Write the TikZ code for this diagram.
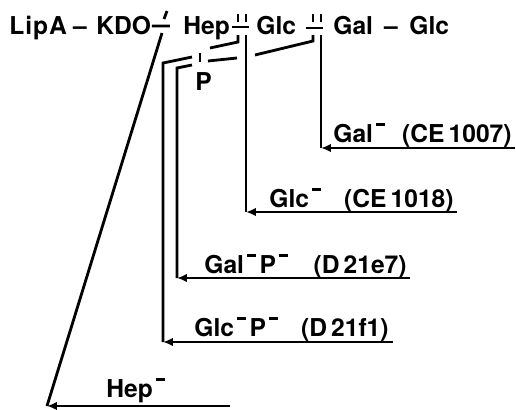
\documentclass[tikz,border=0pt]{standalone}
\usepackage{fontspec}
\setmainfont{TeX Gyre Heros}
\usepackage{tikz}
\usetikzlibrary{arrows.meta}

\newcommand{\mneg}{\kern0.12em\raisebox{0.64em}{\rule{0.36em}{0.12em}}}

\begin{document}
\begin{tikzpicture}[x=0.025cm, y=-0.025cm, >={Latex[length=7pt, width=6pt]},
  line width=2pt, font=\fontsize{17.5}{20}\selectfont\bfseries,
  word/.style={inner sep=0pt, anchor=base west},
  strain/.style={inner sep=0pt, anchor=base east}]
  \useasboundingbox (0,0) rectangle (516,410);
  % the chain
  \node[word] (lipa) at (8,34) {L\kern0.04em i\kern0.04em p\kern0.04em A};
  \node[inner sep=0pt, anchor=base] (lk) at (80,34) {--};
  \node[word] (kdo) at (95,34) {KDO};
  \node[word] (hep) at (182,34) {Hep};
  \node[word] (glcA) at (255,34) {Glc};
  \node[word] (gal) at (332,34) {Gal};
  \node[inner sep=0pt, anchor=base] (gg) at (391,34) {--};
  \node[word] (glcB) at (408,34) {Glc};
  \node[word] (p) at (194,90) {P};
  % bond marks
  \draw (152,26) -- (170,26) (167,11) -- (164,19);
  \draw (232,27) -- (249,27) (238,14) -- (238,22) (246,14) -- (246,22);
  \draw (306,28) -- (323,28) (313,14) -- (313,22) (321,14) -- (321,22);
  \draw (200,53) -- (200,62);
  % mutants
  \node[word] (hepM) at (105,397) {Hep\mneg};
  \node[word] (glcM) at (268,207) {Glc\mneg};
  \node[strain] (glcS) at (455,207) {(CE\,1018)};
  \node[word] (galM) at (332,142) {Gal\mneg};
  \node[strain] (galS) at (513,142) {(CE\,1007)};
  \node[word] (galPM) at (203,273) {Gal\mneg\kern0.15em P\mneg};
  \node[strain] (galPS) at (408,273) {(D\,21e7)};
  \node[word] (glcPM) at (193,336) {Glc\mneg\kern0.15em P\mneg};
  \node[strain] (glcPS) at (390,336) {(D\,21f1)};
  % cut points and corners
  \coordinate (hepT) at (162,33);
  \coordinate (hepC) at (47,406);
  \coordinate (hepE) at (230,406);
  \coordinate (glcT) at (246,35);
  \coordinate (glcC) at (246,212);
  \coordinate (glcE) at (457,212);
  \coordinate (galT) at (321,35);
  \coordinate (galC) at (321,148);
  \coordinate (galE) at (515,148);
  \coordinate (glcPT) at (238,35);
  \coordinate (glcPC) at (163,342);
  \coordinate (glcPE) at (393,342);
  \coordinate (galPT) at (313,35);
  \coordinate (galPC) at (177,278);
  \coordinate (galPE) at (410,278);
  \draw (hepT) -- (hepC);
  \draw[->] (hepE) -- (hepC);
  \draw (glcT) -- (glcC);
  \draw[->] (glcE) -- (glcC);
  \draw (galT) -- (galC);
  \draw[->] (galE) -- (galC);
  \draw (glcPT) -- (238,42) -- (210,48) (192,57) -- (163,63) -- (glcPC);
  \draw[->] (glcPE) -- (glcPC);
  \draw (galPT) -- (313,41) -- (255,55) (237,58) -- (208,61) (192,65) -- (177,68) -- (galPC);
  \draw[->] (galPE) -- (galPC);
\end{tikzpicture}
\end{document}
